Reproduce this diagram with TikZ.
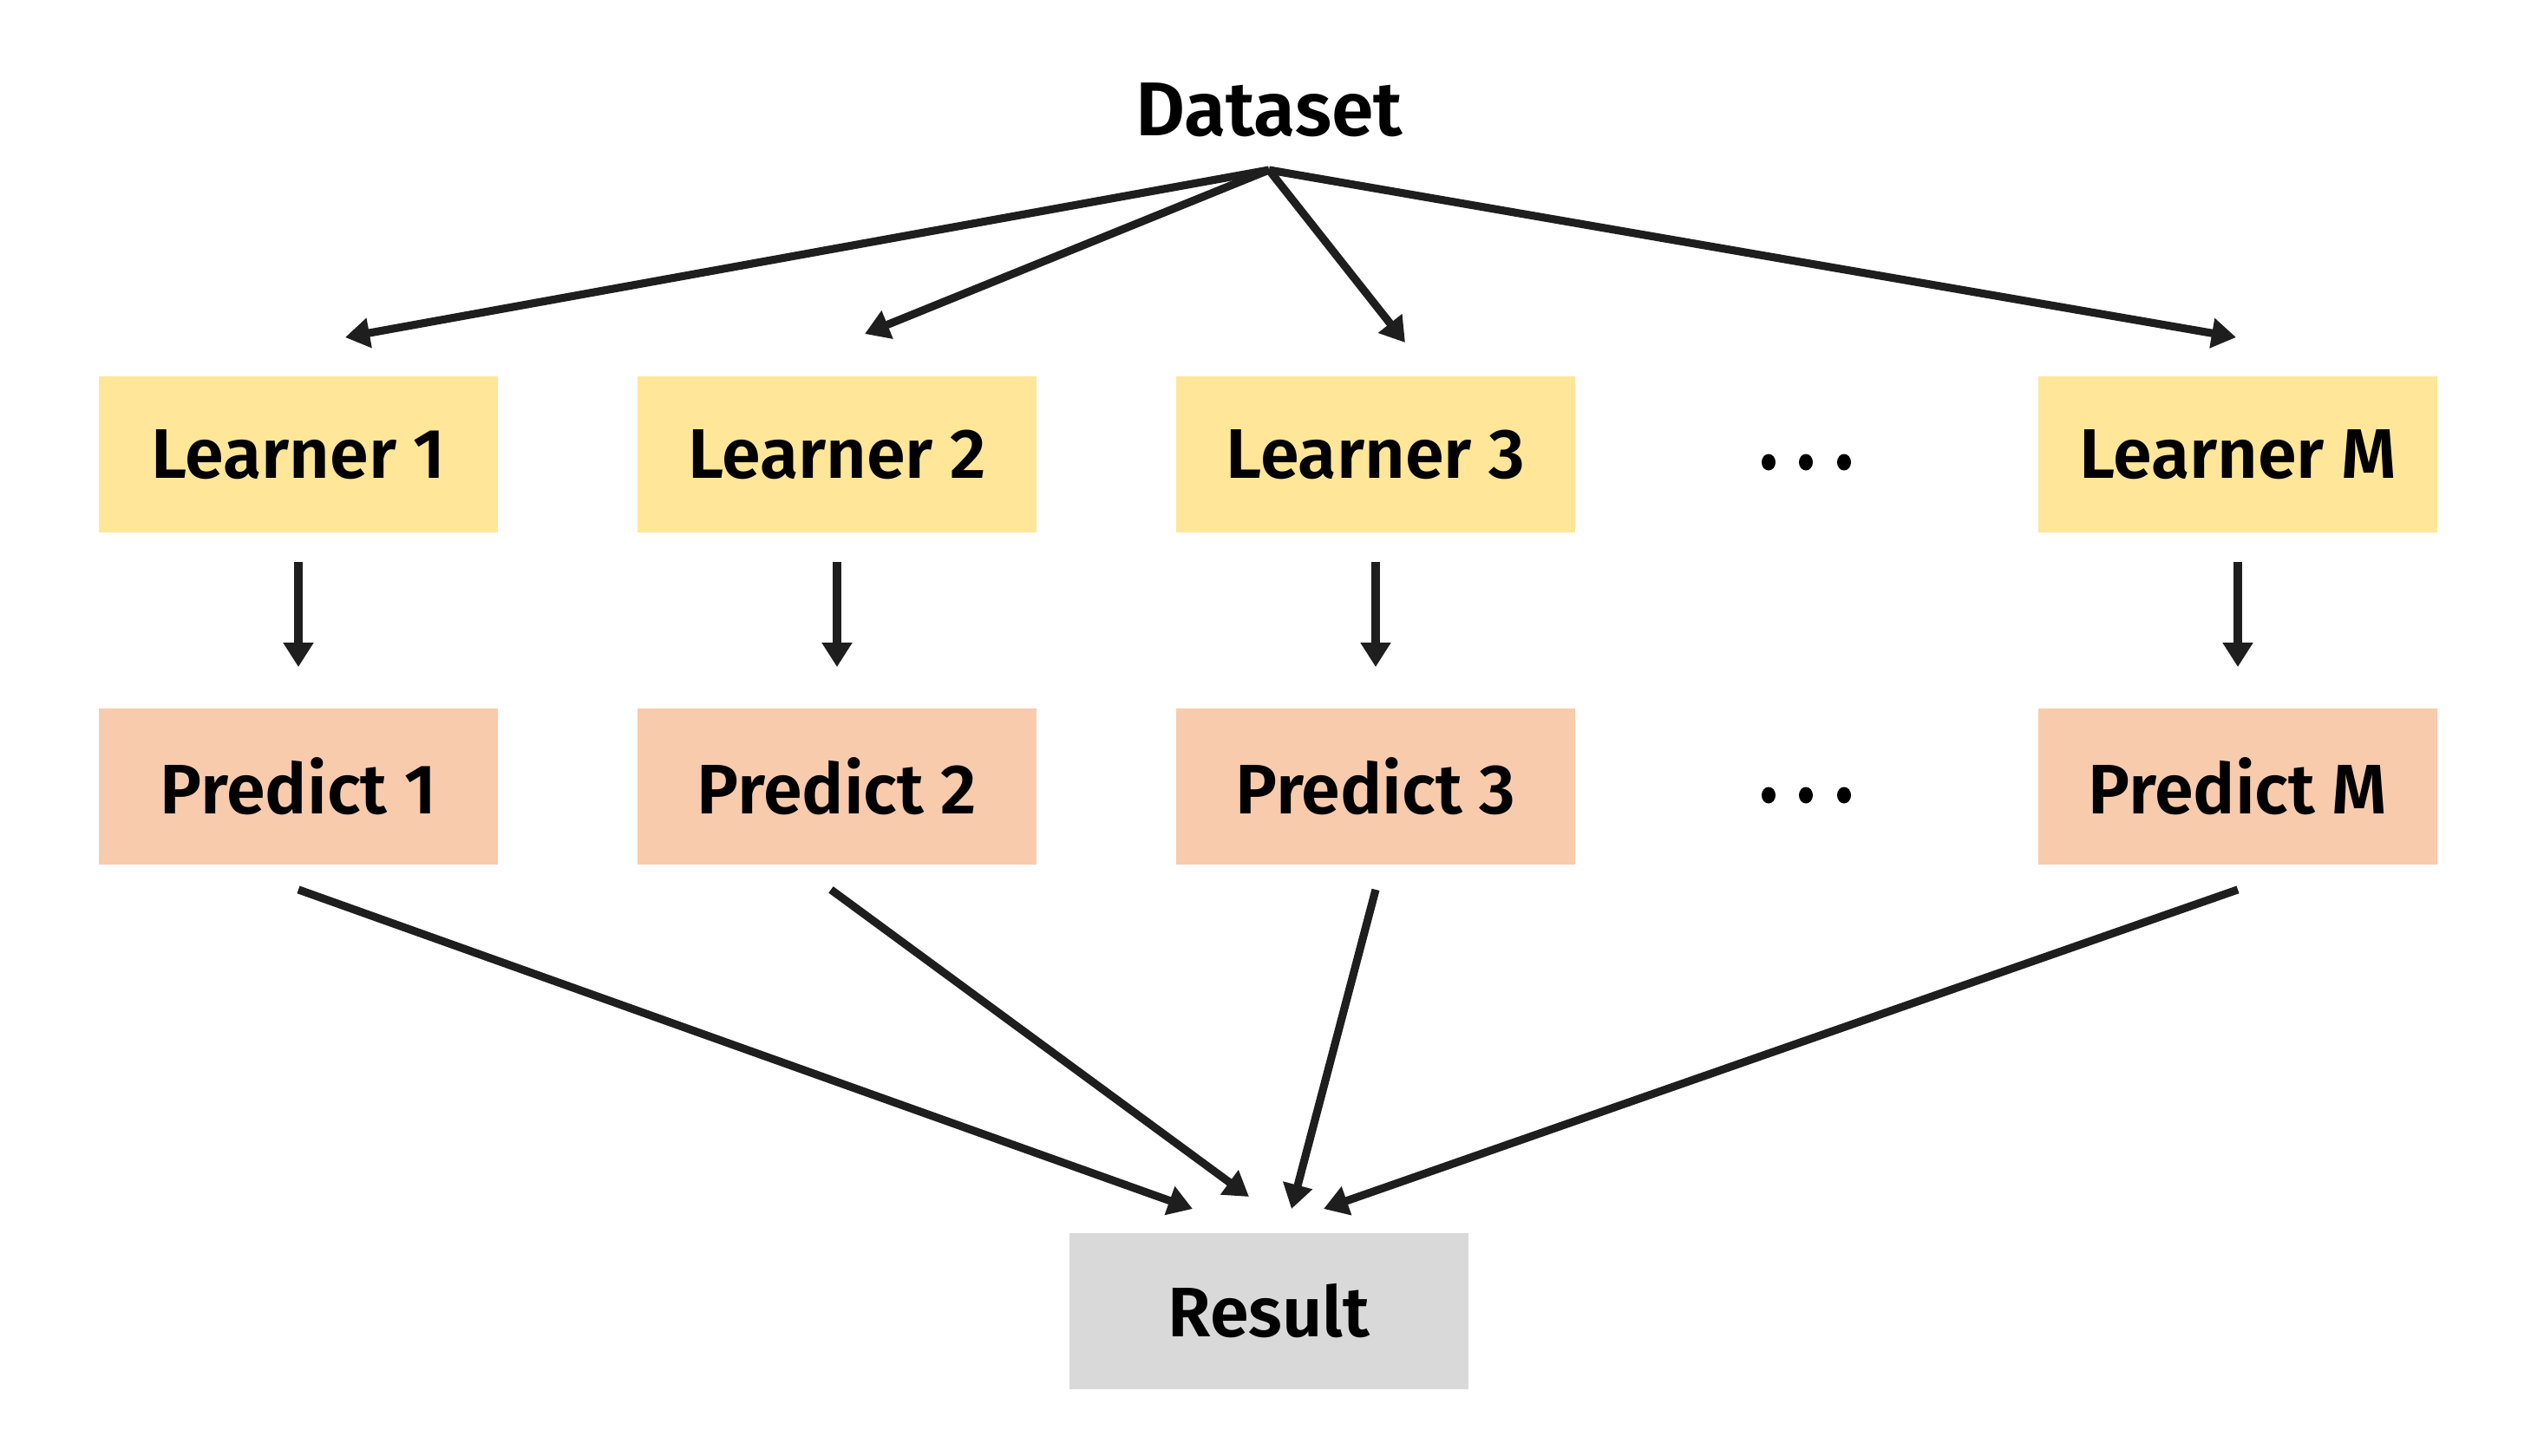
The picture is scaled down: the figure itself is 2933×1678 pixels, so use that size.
\documentclass[tikz,border=0pt]{standalone}
\usepackage{fontspec}
\setmainfont{Fira Sans}[BoldFont={Fira Sans SemiBold}]
\usetikzlibrary{arrows.meta}
\definecolor{learnfill}{HTML}{FFE699}
\definecolor{predfill}{HTML}{F8CBAD}
\definecolor{resfill}{HTML}{D9D9D9}
\definecolor{linegray}{HTML}{1E1E1E}
\begin{document}
\begin{tikzpicture}[x=0.01cm,y=-0.01cm,
  box/.style={minimum width=4.6cm, minimum height=1.8cm, inner sep=0pt, font=\fontsize{23}{27}\selectfont\bfseries},
  learner/.style={box, fill=learnfill},
  predict/.style={box, fill=predfill},
  result/.style={box, fill=resfill},
  link/.style={draw=linegray, line width=2.6pt, -{Triangle[length=8pt,width=9.5pt]}}]
\useasboundingbox (0,0) rectangle (2933,1678);
% top
\node [font=\fontsize{25}{29}\selectfont\bfseries] (data) at (1463,127) {Dataset};
\coordinate (src) at (1463,196);
% learners
\node [learner] (l1) at (344,524) {Learner 1};
\node [learner] (l2) at (965,524) {Learner 2};
\node [learner] (l3) at (1586,524) {Learner 3};
\node [learner] (lm) at (2580,524) {Learner M};
% predictions
\node [predict] (p1) at (344,907) {Predict 1};
\node [predict] (p2) at (965,907) {Predict 2};
\node [predict] (p3) at (1586,907) {Predict 3};
\node [predict] (pm) at (2580,907) {Predict M};
% result
\node [result] (res) at (1463,1512) {Result};
% dots between the columns
\foreach \y in {533,917}
  \foreach \x in {2039,2082,2126}
    \fill (\x,\y) ellipse (8 and 9.5);
% free ends
\coordinate (a1) at (398,389);
\coordinate (a2) at (997,385);
\coordinate (a3) at (1620,395);
\coordinate (am) at (2578,389);
\coordinate (b1) at (1375,1394);
\coordinate (b2) at (1440,1380);
\coordinate (b3) at (1489,1394);
\coordinate (bm) at (1526,1394);
% dataset to learners
\draw [link] (src) -- (a1);
\draw [link] (src) -- (a2);
\draw [link] (src) -- (a3);
\draw [link] (src) -- (am);
% learners to predictions
\draw [link] ([yshift=-9.4pt]l1.south) -- ([yshift=13.4pt]p1.north);
\draw [link] ([yshift=-9.4pt]l2.south) -- ([yshift=13.4pt]p2.north);
\draw [link] ([yshift=-9.4pt]l3.south) -- ([yshift=13.4pt]p3.north);
\draw [link] ([yshift=-9.4pt]lm.south) -- ([yshift=13.4pt]pm.north);
% predictions to result
\draw [link] ([yshift=-8pt]p1.south) -- (b1);
\draw [link] ([xshift=-2pt,yshift=-8pt]p2.south) -- (b2);
\draw [link] ([yshift=-8pt]p3.south) -- (b3);
\draw [link] ([yshift=-8pt]pm.south) -- (bm);
\end{tikzpicture}
\end{document}
